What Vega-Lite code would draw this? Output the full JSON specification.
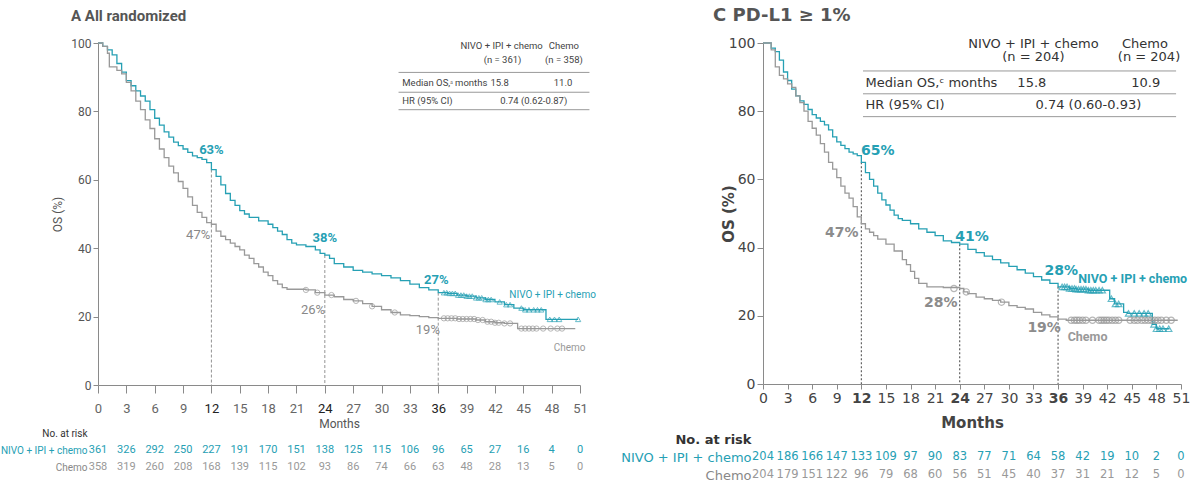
{
"$schema": "https://vega.github.io/schema/vega-lite/v6.json",
"background": "white",
"padding": {"left": 0, "top": 7, "right": 0, "bottom": 0},
"config": {"view": {"stroke": null}, "axis": {"grid": false, "domainColor": "#8a8a8a", "tickColor": "#8a8a8a", "labelOverlap": false}},
"datasets": {
"kmA": [
{"arm":"NIVO + IPI + chemo","month":0,"os":100},{"arm":"NIVO + IPI + chemo","month":0.5,"os":99},{"arm":"NIVO + IPI + chemo","month":1,"os":98},{"arm":"NIVO + IPI + chemo","month":1.5,"os":96.5},{"arm":"NIVO + IPI + chemo","month":2,"os":94},{"arm":"NIVO + IPI + chemo","month":2.5,"os":91.5},{"arm":"NIVO + IPI + chemo","month":3,"os":89},{"arm":"NIVO + IPI + chemo","month":3.5,"os":87.5},{"arm":"NIVO + IPI + chemo","month":4,"os":86},{"arm":"NIVO + IPI + chemo","month":4.5,"os":84.5},{"arm":"NIVO + IPI + chemo","month":5,"os":83},{"arm":"NIVO + IPI + chemo","month":5.5,"os":80.5},{"arm":"NIVO + IPI + chemo","month":6,"os":78},{"arm":"NIVO + IPI + chemo","month":6.5,"os":76},{"arm":"NIVO + IPI + chemo","month":7,"os":74},{"arm":"NIVO + IPI + chemo","month":7.5,"os":72.5},{"arm":"NIVO + IPI + chemo","month":8,"os":71},{"arm":"NIVO + IPI + chemo","month":8.5,"os":70},{"arm":"NIVO + IPI + chemo","month":9,"os":69},{"arm":"NIVO + IPI + chemo","month":9.5,"os":68},{"arm":"NIVO + IPI + chemo","month":10,"os":67},{"arm":"NIVO + IPI + chemo","month":10.5,"os":66.5},{"arm":"NIVO + IPI + chemo","month":11,"os":66},{"arm":"NIVO + IPI + chemo","month":11.5,"os":65},{"arm":"NIVO + IPI + chemo","month":12,"os":63},{"arm":"NIVO + IPI + chemo","month":12.5,"os":61},{"arm":"NIVO + IPI + chemo","month":13,"os":58.5},{"arm":"NIVO + IPI + chemo","month":13.5,"os":56},{"arm":"NIVO + IPI + chemo","month":14,"os":54},{"arm":"NIVO + IPI + chemo","month":14.5,"os":52.5},{"arm":"NIVO + IPI + chemo","month":15,"os":51},{"arm":"NIVO + IPI + chemo","month":15.5,"os":50},{"arm":"NIVO + IPI + chemo","month":16,"os":49},{"arm":"NIVO + IPI + chemo","month":17,"os":48},{"arm":"NIVO + IPI + chemo","month":18,"os":47},{"arm":"NIVO + IPI + chemo","month":18.5,"os":46},{"arm":"NIVO + IPI + chemo","month":19,"os":45},{"arm":"NIVO + IPI + chemo","month":19.5,"os":44},{"arm":"NIVO + IPI + chemo","month":20,"os":42.5},{"arm":"NIVO + IPI + chemo","month":20.5,"os":41.5},{"arm":"NIVO + IPI + chemo","month":21,"os":41},{"arm":"NIVO + IPI + chemo","month":22,"os":40.5},{"arm":"NIVO + IPI + chemo","month":23,"os":39.5},{"arm":"NIVO + IPI + chemo","month":23.5,"os":38.5},{"arm":"NIVO + IPI + chemo","month":24,"os":38},{"arm":"NIVO + IPI + chemo","month":24.5,"os":37},{"arm":"NIVO + IPI + chemo","month":25,"os":35.5},{"arm":"NIVO + IPI + chemo","month":26,"os":34.5},{"arm":"NIVO + IPI + chemo","month":27,"os":33.5},{"arm":"NIVO + IPI + chemo","month":28,"os":33},{"arm":"NIVO + IPI + chemo","month":29,"os":32.5},{"arm":"NIVO + IPI + chemo","month":30,"os":32},{"arm":"NIVO + IPI + chemo","month":31,"os":31.3},{"arm":"NIVO + IPI + chemo","month":32,"os":30.5},{"arm":"NIVO + IPI + chemo","month":33,"os":29.5},{"arm":"NIVO + IPI + chemo","month":34,"os":28.5},{"arm":"NIVO + IPI + chemo","month":35,"os":27.8},{"arm":"NIVO + IPI + chemo","month":36,"os":27},{"arm":"NIVO + IPI + chemo","month":37,"os":26.8},{"arm":"NIVO + IPI + chemo","month":38,"os":26.3},{"arm":"NIVO + IPI + chemo","month":39,"os":26},{"arm":"NIVO + IPI + chemo","month":40,"os":25.5},{"arm":"NIVO + IPI + chemo","month":41,"os":25},{"arm":"NIVO + IPI + chemo","month":42,"os":24.3},{"arm":"NIVO + IPI + chemo","month":43,"os":23.5},{"arm":"NIVO + IPI + chemo","month":44,"os":22.5},{"arm":"NIVO + IPI + chemo","month":45,"os":22},{"arm":"NIVO + IPI + chemo","month":47.4,"os":19.2},{"arm":"NIVO + IPI + chemo","month":50.8,"os":19.2},
{"arm":"Chemo","month":0,"os":100},{"arm":"Chemo","month":0.5,"os":99},{"arm":"Chemo","month":1,"os":97},{"arm":"Chemo","month":1.2,"os":93},{"arm":"Chemo","month":2,"os":92},{"arm":"Chemo","month":2.5,"os":91},{"arm":"Chemo","month":3,"os":88.5},{"arm":"Chemo","month":3.5,"os":86},{"arm":"Chemo","month":4,"os":83},{"arm":"Chemo","month":4.5,"os":80.5},{"arm":"Chemo","month":5,"os":77.5},{"arm":"Chemo","month":5.5,"os":75},{"arm":"Chemo","month":6,"os":72},{"arm":"Chemo","month":6.5,"os":69},{"arm":"Chemo","month":7,"os":66.5},{"arm":"Chemo","month":7.5,"os":64},{"arm":"Chemo","month":8,"os":62},{"arm":"Chemo","month":8.5,"os":59.5},{"arm":"Chemo","month":9,"os":57.5},{"arm":"Chemo","month":9.5,"os":55},{"arm":"Chemo","month":10,"os":52.5},{"arm":"Chemo","month":10.5,"os":50.5},{"arm":"Chemo","month":11,"os":49},{"arm":"Chemo","month":11.5,"os":47.5},{"arm":"Chemo","month":12,"os":47},{"arm":"Chemo","month":12.5,"os":45},{"arm":"Chemo","month":13,"os":43.5},{"arm":"Chemo","month":13.5,"os":42.5},{"arm":"Chemo","month":14,"os":41.5},{"arm":"Chemo","month":14.5,"os":40.5},{"arm":"Chemo","month":15,"os":39.5},{"arm":"Chemo","month":15.5,"os":38},{"arm":"Chemo","month":16,"os":37},{"arm":"Chemo","month":16.5,"os":35.5},{"arm":"Chemo","month":17,"os":34.5},{"arm":"Chemo","month":17.5,"os":33},{"arm":"Chemo","month":18,"os":32},{"arm":"Chemo","month":18.5,"os":30.5},{"arm":"Chemo","month":19,"os":29.5},{"arm":"Chemo","month":19.5,"os":28.5},{"arm":"Chemo","month":20,"os":28},{"arm":"Chemo","month":22,"os":27.8},{"arm":"Chemo","month":23,"os":27},{"arm":"Chemo","month":24,"os":26.3},{"arm":"Chemo","month":25,"os":25.8},{"arm":"Chemo","month":26,"os":25},{"arm":"Chemo","month":27,"os":24.6},{"arm":"Chemo","month":28,"os":23.8},{"arm":"Chemo","month":29,"os":23},{"arm":"Chemo","month":30,"os":22},{"arm":"Chemo","month":31,"os":21.2},{"arm":"Chemo","month":32,"os":20.5},{"arm":"Chemo","month":33,"os":20.3},{"arm":"Chemo","month":34,"os":20},{"arm":"Chemo","month":35,"os":19.7},{"arm":"Chemo","month":36,"os":19.5},{"arm":"Chemo","month":38,"os":19.3},{"arm":"Chemo","month":40,"os":19},{"arm":"Chemo","month":41,"os":18.5},{"arm":"Chemo","month":42,"os":18.2},{"arm":"Chemo","month":43,"os":18},{"arm":"Chemo","month":44.4,"os":16.5},{"arm":"Chemo","month":50.5,"os":16.5}
],
"cenA": [
{"arm":"NIVO + IPI + chemo","month":36.6,"os":27},{"arm":"NIVO + IPI + chemo","month":36.9,"os":27},{"arm":"NIVO + IPI + chemo","month":37.2,"os":26.8},{"arm":"NIVO + IPI + chemo","month":37.5,"os":26.8},{"arm":"NIVO + IPI + chemo","month":37.8,"os":26.8},{"arm":"NIVO + IPI + chemo","month":38.1,"os":26.3},{"arm":"NIVO + IPI + chemo","month":38.4,"os":26.3},{"arm":"NIVO + IPI + chemo","month":38.7,"os":26.3},{"arm":"NIVO + IPI + chemo","month":39.0,"os":26},{"arm":"NIVO + IPI + chemo","month":39.3,"os":26},{"arm":"NIVO + IPI + chemo","month":39.6,"os":26},{"arm":"NIVO + IPI + chemo","month":40.0,"os":25.5},{"arm":"NIVO + IPI + chemo","month":40.3,"os":25.5},{"arm":"NIVO + IPI + chemo","month":40.6,"os":25.5},{"arm":"NIVO + IPI + chemo","month":41.0,"os":25},{"arm":"NIVO + IPI + chemo","month":41.3,"os":25},{"arm":"NIVO + IPI + chemo","month":41.6,"os":25},{"arm":"NIVO + IPI + chemo","month":42.5,"os":24.3},{"arm":"NIVO + IPI + chemo","month":43.2,"os":23.5},{"arm":"NIVO + IPI + chemo","month":43.6,"os":23.5},{"arm":"NIVO + IPI + chemo","month":44.8,"os":22.5},{"arm":"NIVO + IPI + chemo","month":45.2,"os":22},{"arm":"NIVO + IPI + chemo","month":45.6,"os":22},{"arm":"NIVO + IPI + chemo","month":46.1,"os":22},{"arm":"NIVO + IPI + chemo","month":46.5,"os":22},{"arm":"NIVO + IPI + chemo","month":46.9,"os":22},{"arm":"NIVO + IPI + chemo","month":47.8,"os":19.2},{"arm":"NIVO + IPI + chemo","month":48.3,"os":19.2},{"arm":"NIVO + IPI + chemo","month":48.8,"os":19.2},{"arm":"NIVO + IPI + chemo","month":50.8,"os":19.2},
{"arm":"Chemo","month":22.0,"os":27.8},{"arm":"Chemo","month":23.2,"os":27},{"arm":"Chemo","month":24.7,"os":26.3},{"arm":"Chemo","month":27.3,"os":24.6},{"arm":"Chemo","month":29.0,"os":23},{"arm":"Chemo","month":31.4,"os":21.2},{"arm":"Chemo","month":36.6,"os":19.5},{"arm":"Chemo","month":37.0,"os":19.5},{"arm":"Chemo","month":37.4,"os":19.5},{"arm":"Chemo","month":37.8,"os":19.5},{"arm":"Chemo","month":38.2,"os":19.3},{"arm":"Chemo","month":38.6,"os":19.3},{"arm":"Chemo","month":39.0,"os":19.3},{"arm":"Chemo","month":39.4,"os":19.3},{"arm":"Chemo","month":39.8,"os":19.3},{"arm":"Chemo","month":40.2,"os":19},{"arm":"Chemo","month":40.7,"os":19},{"arm":"Chemo","month":41.2,"os":18.5},{"arm":"Chemo","month":41.6,"os":18.5},{"arm":"Chemo","month":42.0,"os":18.2},{"arm":"Chemo","month":42.4,"os":18.2},{"arm":"Chemo","month":43.0,"os":18},{"arm":"Chemo","month":43.6,"os":18},{"arm":"Chemo","month":44.8,"os":16.5},{"arm":"Chemo","month":45.2,"os":16.5},{"arm":"Chemo","month":45.6,"os":16.5},{"arm":"Chemo","month":46.0,"os":16.5},{"arm":"Chemo","month":46.4,"os":16.5},{"arm":"Chemo","month":47.1,"os":16.5},{"arm":"Chemo","month":47.9,"os":16.5},{"arm":"Chemo","month":48.6,"os":16.5},{"arm":"Chemo","month":49.1,"os":16.5}
],
"rlA": [{"month":12,"os":63},{"month":24,"os":38},{"month":36,"os":27}],
"ptA": [{"label":"63%","month":12,"os":68.8},{"label":"38%","month":24,"os":43.0},{"label":"27%","month":35.8,"os":30.8}],
"pgA": [{"label":"47%","month":10.6,"os":43.9},{"label":"26%","month":22.75,"os":22.0},{"label":"19%","month":34.9,"os":16.2}],
"srA": [{"label":"NIVO + IPI + chemo","arm":"NIVO + IPI + chemo","month":48.1,"os":26.4},{"label":"Chemo","arm":"Chemo","month":49.9,"os":10.8}],
"tcA": [{"label":"NIVO + IPI + chemo","month":42.7,"os":99.0},{"label":"(n = 361)","month":42.8,"os":95.1},{"label":"Chemo","month":49.3,"os":99.0},{"label":"(n = 358)","month":49.3,"os":95.1},{"label":"15.8","month":42.5,"os":88.3},{"label":"11.0","month":49.2,"os":88.3},{"label":"0.74 (0.62-0.87)","month":46.1,"os":83.1}],
"tlA": [{"label":"Median OS,ᵃ months","month":32.2,"os":88.3},{"label":"HR (95% CI)","month":32.2,"os":83.1}],
"trA": [{"from":31.8,"to":52,"os":91.4},{"from":31.8,"to":52,"os":85.6},{"from":31.8,"to":52,"os":80.5}],
"riskA": [
{"arm":"NIVO + IPI + chemo","month":0,"n":361},{"arm":"NIVO + IPI + chemo","month":3,"n":326},{"arm":"NIVO + IPI + chemo","month":6,"n":292},{"arm":"NIVO + IPI + chemo","month":9,"n":250},{"arm":"NIVO + IPI + chemo","month":12,"n":227},{"arm":"NIVO + IPI + chemo","month":15,"n":191},{"arm":"NIVO + IPI + chemo","month":18,"n":170},{"arm":"NIVO + IPI + chemo","month":21,"n":151},{"arm":"NIVO + IPI + chemo","month":24,"n":138},{"arm":"NIVO + IPI + chemo","month":27,"n":125},{"arm":"NIVO + IPI + chemo","month":30,"n":115},{"arm":"NIVO + IPI + chemo","month":33,"n":106},{"arm":"NIVO + IPI + chemo","month":36,"n":96},{"arm":"NIVO + IPI + chemo","month":39,"n":65},{"arm":"NIVO + IPI + chemo","month":42,"n":27},{"arm":"NIVO + IPI + chemo","month":45,"n":16},{"arm":"NIVO + IPI + chemo","month":48,"n":4},{"arm":"NIVO + IPI + chemo","month":51,"n":0},
{"arm":"Chemo","month":0,"n":358},{"arm":"Chemo","month":3,"n":319},{"arm":"Chemo","month":6,"n":260},{"arm":"Chemo","month":9,"n":208},{"arm":"Chemo","month":12,"n":168},{"arm":"Chemo","month":15,"n":139},{"arm":"Chemo","month":18,"n":115},{"arm":"Chemo","month":21,"n":102},{"arm":"Chemo","month":24,"n":93},{"arm":"Chemo","month":27,"n":86},{"arm":"Chemo","month":30,"n":74},{"arm":"Chemo","month":33,"n":66},{"arm":"Chemo","month":36,"n":63},{"arm":"Chemo","month":39,"n":48},{"arm":"Chemo","month":42,"n":28},{"arm":"Chemo","month":45,"n":13},{"arm":"Chemo","month":48,"n":5},{"arm":"Chemo","month":51,"n":0}
],
"kmC": [
{"arm":"NIVO + IPI + chemo","month":0,"os":100},{"arm":"NIVO + IPI + chemo","month":1,"os":98.5},{"arm":"NIVO + IPI + chemo","month":1.5,"os":97.5},{"arm":"NIVO + IPI + chemo","month":2,"os":95},{"arm":"NIVO + IPI + chemo","month":2.5,"os":91.5},{"arm":"NIVO + IPI + chemo","month":3,"os":89},{"arm":"NIVO + IPI + chemo","month":3.5,"os":86.5},{"arm":"NIVO + IPI + chemo","month":4,"os":84.5},{"arm":"NIVO + IPI + chemo","month":4.5,"os":83},{"arm":"NIVO + IPI + chemo","month":5,"os":82},{"arm":"NIVO + IPI + chemo","month":5.5,"os":80.5},{"arm":"NIVO + IPI + chemo","month":6,"os":79},{"arm":"NIVO + IPI + chemo","month":6.5,"os":78},{"arm":"NIVO + IPI + chemo","month":7,"os":77},{"arm":"NIVO + IPI + chemo","month":7.5,"os":76},{"arm":"NIVO + IPI + chemo","month":8,"os":74.5},{"arm":"NIVO + IPI + chemo","month":8.5,"os":72.5},{"arm":"NIVO + IPI + chemo","month":9,"os":71},{"arm":"NIVO + IPI + chemo","month":9.5,"os":70},{"arm":"NIVO + IPI + chemo","month":10,"os":69},{"arm":"NIVO + IPI + chemo","month":10.5,"os":68},{"arm":"NIVO + IPI + chemo","month":11,"os":67.5},{"arm":"NIVO + IPI + chemo","month":11.5,"os":67},{"arm":"NIVO + IPI + chemo","month":12,"os":65},{"arm":"NIVO + IPI + chemo","month":12.5,"os":62},{"arm":"NIVO + IPI + chemo","month":13,"os":60},{"arm":"NIVO + IPI + chemo","month":13.5,"os":58},{"arm":"NIVO + IPI + chemo","month":14,"os":56},{"arm":"NIVO + IPI + chemo","month":14.5,"os":54},{"arm":"NIVO + IPI + chemo","month":15,"os":52.5},{"arm":"NIVO + IPI + chemo","month":15.5,"os":51},{"arm":"NIVO + IPI + chemo","month":16,"os":49.5},{"arm":"NIVO + IPI + chemo","month":16.5,"os":48.5},{"arm":"NIVO + IPI + chemo","month":17,"os":48},{"arm":"NIVO + IPI + chemo","month":18,"os":47},{"arm":"NIVO + IPI + chemo","month":19,"os":45.5},{"arm":"NIVO + IPI + chemo","month":20,"os":44.5},{"arm":"NIVO + IPI + chemo","month":21,"os":43.5},{"arm":"NIVO + IPI + chemo","month":22,"os":42},{"arm":"NIVO + IPI + chemo","month":23,"os":41.5},{"arm":"NIVO + IPI + chemo","month":24,"os":41},{"arm":"NIVO + IPI + chemo","month":25,"os":39.5},{"arm":"NIVO + IPI + chemo","month":26,"os":38.5},{"arm":"NIVO + IPI + chemo","month":27,"os":37.5},{"arm":"NIVO + IPI + chemo","month":28,"os":36.5},{"arm":"NIVO + IPI + chemo","month":29,"os":35.5},{"arm":"NIVO + IPI + chemo","month":30,"os":34.5},{"arm":"NIVO + IPI + chemo","month":31,"os":33.5},{"arm":"NIVO + IPI + chemo","month":32,"os":32.5},{"arm":"NIVO + IPI + chemo","month":33,"os":31.5},{"arm":"NIVO + IPI + chemo","month":34,"os":30.5},{"arm":"NIVO + IPI + chemo","month":35,"os":29.5},{"arm":"NIVO + IPI + chemo","month":36,"os":28.5},{"arm":"NIVO + IPI + chemo","month":37.4,"os":28},{"arm":"NIVO + IPI + chemo","month":38.2,"os":27.8},{"arm":"NIVO + IPI + chemo","month":39.7,"os":27.5},{"arm":"NIVO + IPI + chemo","month":42.3,"os":25},{"arm":"NIVO + IPI + chemo","month":42.9,"os":23.5},{"arm":"NIVO + IPI + chemo","month":44,"os":21},{"arm":"NIVO + IPI + chemo","month":44.5,"os":20.7},{"arm":"NIVO + IPI + chemo","month":47.5,"os":17.5},{"arm":"NIVO + IPI + chemo","month":48,"os":16.2},{"arm":"NIVO + IPI + chemo","month":49.6,"os":16.2},
{"arm":"Chemo","month":0,"os":100},{"arm":"Chemo","month":1,"os":98},{"arm":"Chemo","month":1.5,"os":93},{"arm":"Chemo","month":2,"os":90.5},{"arm":"Chemo","month":2.5,"os":89.5},{"arm":"Chemo","month":3,"os":88},{"arm":"Chemo","month":3.5,"os":87},{"arm":"Chemo","month":4,"os":84.5},{"arm":"Chemo","month":4.5,"os":82.5},{"arm":"Chemo","month":5,"os":80},{"arm":"Chemo","month":5.5,"os":77},{"arm":"Chemo","month":6,"os":75},{"arm":"Chemo","month":6.5,"os":73},{"arm":"Chemo","month":7,"os":70.5},{"arm":"Chemo","month":7.5,"os":68},{"arm":"Chemo","month":8,"os":65},{"arm":"Chemo","month":8.5,"os":63},{"arm":"Chemo","month":9,"os":60.5},{"arm":"Chemo","month":9.5,"os":58},{"arm":"Chemo","month":10,"os":56},{"arm":"Chemo","month":10.5,"os":54.5},{"arm":"Chemo","month":11,"os":52},{"arm":"Chemo","month":11.5,"os":49},{"arm":"Chemo","month":12,"os":47},{"arm":"Chemo","month":12.5,"os":45.5},{"arm":"Chemo","month":13,"os":44.5},{"arm":"Chemo","month":13.5,"os":43.5},{"arm":"Chemo","month":14,"os":42.5},{"arm":"Chemo","month":15,"os":41},{"arm":"Chemo","month":16,"os":39},{"arm":"Chemo","month":17,"os":36.5},{"arm":"Chemo","month":17.5,"os":35},{"arm":"Chemo","month":18,"os":33},{"arm":"Chemo","month":18.5,"os":31},{"arm":"Chemo","month":19,"os":29.5},{"arm":"Chemo","month":20,"os":28.5},{"arm":"Chemo","month":22,"os":28.3},{"arm":"Chemo","month":24,"os":28},{"arm":"Chemo","month":24.5,"os":27},{"arm":"Chemo","month":25,"os":26.5},{"arm":"Chemo","month":26,"os":25.5},{"arm":"Chemo","month":27,"os":25},{"arm":"Chemo","month":28,"os":24.5},{"arm":"Chemo","month":29,"os":24},{"arm":"Chemo","month":30,"os":23},{"arm":"Chemo","month":31,"os":22.5},{"arm":"Chemo","month":32,"os":22},{"arm":"Chemo","month":33,"os":21},{"arm":"Chemo","month":34,"os":20.3},{"arm":"Chemo","month":35,"os":19.7},{"arm":"Chemo","month":36,"os":19},{"arm":"Chemo","month":37,"os":18.7},{"arm":"Chemo","month":50.6,"os":18.7}
],
"cenC": [
{"arm":"NIVO + IPI + chemo","month":36.5,"os":28.5},{"arm":"NIVO + IPI + chemo","month":36.8,"os":28.5},{"arm":"NIVO + IPI + chemo","month":37.1,"os":28.5},{"arm":"NIVO + IPI + chemo","month":37.4,"os":28},{"arm":"NIVO + IPI + chemo","month":37.7,"os":28},{"arm":"NIVO + IPI + chemo","month":38.0,"os":28},{"arm":"NIVO + IPI + chemo","month":38.2,"os":27.8},{"arm":"NIVO + IPI + chemo","month":38.5,"os":27.8},{"arm":"NIVO + IPI + chemo","month":38.8,"os":27.8},{"arm":"NIVO + IPI + chemo","month":39.1,"os":27.8},{"arm":"NIVO + IPI + chemo","month":39.4,"os":27.8},{"arm":"NIVO + IPI + chemo","month":39.7,"os":27.5},{"arm":"NIVO + IPI + chemo","month":40.0,"os":27.5},{"arm":"NIVO + IPI + chemo","month":40.3,"os":27.5},{"arm":"NIVO + IPI + chemo","month":40.6,"os":27.5},{"arm":"NIVO + IPI + chemo","month":41.0,"os":27.5},{"arm":"NIVO + IPI + chemo","month":41.4,"os":27.5},{"arm":"NIVO + IPI + chemo","month":42.5,"os":25},{"arm":"NIVO + IPI + chemo","month":43.0,"os":23.5},{"arm":"NIVO + IPI + chemo","month":43.4,"os":23.5},{"arm":"NIVO + IPI + chemo","month":44.6,"os":20.7},{"arm":"NIVO + IPI + chemo","month":45.3,"os":20.7},{"arm":"NIVO + IPI + chemo","month":45.9,"os":20.7},{"arm":"NIVO + IPI + chemo","month":46.5,"os":20.7},{"arm":"NIVO + IPI + chemo","month":47.0,"os":20.7},{"arm":"NIVO + IPI + chemo","month":47.7,"os":17.5},{"arm":"NIVO + IPI + chemo","month":48.0,"os":16.2},{"arm":"NIVO + IPI + chemo","month":48.4,"os":16.2},{"arm":"NIVO + IPI + chemo","month":48.8,"os":16.2},{"arm":"NIVO + IPI + chemo","month":49.5,"os":16.2},
{"arm":"Chemo","month":23.3,"os":28},{"arm":"Chemo","month":24.8,"os":27},{"arm":"Chemo","month":29.1,"os":24},{"arm":"Chemo","month":37.6,"os":18.7},{"arm":"Chemo","month":38.0,"os":18.7},{"arm":"Chemo","month":38.3,"os":18.7},{"arm":"Chemo","month":38.6,"os":18.7},{"arm":"Chemo","month":39.0,"os":18.7},{"arm":"Chemo","month":39.4,"os":18.7},{"arm":"Chemo","month":40.2,"os":18.7},{"arm":"Chemo","month":41.0,"os":18.7},{"arm":"Chemo","month":41.3,"os":18.7},{"arm":"Chemo","month":41.6,"os":18.7},{"arm":"Chemo","month":41.9,"os":18.7},{"arm":"Chemo","month":42.2,"os":18.7},{"arm":"Chemo","month":42.6,"os":18.7},{"arm":"Chemo","month":43.0,"os":18.7},{"arm":"Chemo","month":43.4,"os":18.7},{"arm":"Chemo","month":44.8,"os":18.7},{"arm":"Chemo","month":45.3,"os":18.7},{"arm":"Chemo","month":45.7,"os":18.7},{"arm":"Chemo","month":46.2,"os":18.7},{"arm":"Chemo","month":46.6,"os":18.7},{"arm":"Chemo","month":47.0,"os":18.7},{"arm":"Chemo","month":47.4,"os":18.7},{"arm":"Chemo","month":47.8,"os":18.7},{"arm":"Chemo","month":48.2,"os":18.7},{"arm":"Chemo","month":48.6,"os":18.7},{"arm":"Chemo","month":49.2,"os":18.7},{"arm":"Chemo","month":49.8,"os":18.7}
],
"rlC": [{"month":12,"os":65},{"month":24,"os":41},{"month":36,"os":28.5}],
"ptC": [{"label":"65%","month":14.0,"os":68.4},{"label":"41%","month":25.5,"os":43.2},{"label":"28%","month":36.4,"os":33.2}],
"pgC": [{"label":"47%","month":9.6,"os":44.2},{"label":"28%","month":21.7,"os":23.7},{"label":"19%","month":34.3,"os":16.5}],
"srC": [{"label":"NIVO + IPI + chemo","arm":"NIVO + IPI + chemo","month":45.1,"os":30.9},{"label":"Chemo","arm":"Chemo","month":39.6,"os":13.8}],
"tcC": [{"label":"NIVO + IPI + chemo","month":33.0,"os":99.6},{"label":"(n = 204)","month":33.0,"os":95.8},{"label":"Chemo","month":46.6,"os":99.6},{"label":"(n = 204)","month":47.1,"os":95.8},{"label":"15.8","month":32.8,"os":88.4},{"label":"10.9","month":46.7,"os":88.4},{"label":"0.74 (0.60-0.93)","month":39.7,"os":81.8}],
"tlC": [{"label":"Median OS,ᶜ months","month":12.5,"os":88.4},{"label":"HR (95% CI)","month":12.5,"os":81.8}],
"trC": [{"from":12.2,"to":50.4,"os":91.8},{"from":12.2,"to":50.4,"os":85.1},{"from":12.2,"to":50.4,"os":78.4}],
"riskC": [
{"arm":"NIVO + IPI + chemo","month":0,"n":204},{"arm":"NIVO + IPI + chemo","month":3,"n":186},{"arm":"NIVO + IPI + chemo","month":6,"n":166},{"arm":"NIVO + IPI + chemo","month":9,"n":147},{"arm":"NIVO + IPI + chemo","month":12,"n":133},{"arm":"NIVO + IPI + chemo","month":15,"n":109},{"arm":"NIVO + IPI + chemo","month":18,"n":97},{"arm":"NIVO + IPI + chemo","month":21,"n":90},{"arm":"NIVO + IPI + chemo","month":24,"n":83},{"arm":"NIVO + IPI + chemo","month":27,"n":77},{"arm":"NIVO + IPI + chemo","month":30,"n":71},{"arm":"NIVO + IPI + chemo","month":33,"n":64},{"arm":"NIVO + IPI + chemo","month":36,"n":58},{"arm":"NIVO + IPI + chemo","month":39,"n":42},{"arm":"NIVO + IPI + chemo","month":42,"n":19},{"arm":"NIVO + IPI + chemo","month":45,"n":10},{"arm":"NIVO + IPI + chemo","month":48,"n":2},{"arm":"NIVO + IPI + chemo","month":51,"n":0},
{"arm":"Chemo","month":0,"n":204},{"arm":"Chemo","month":3,"n":179},{"arm":"Chemo","month":6,"n":151},{"arm":"Chemo","month":9,"n":122},{"arm":"Chemo","month":12,"n":96},{"arm":"Chemo","month":15,"n":79},{"arm":"Chemo","month":18,"n":68},{"arm":"Chemo","month":21,"n":60},{"arm":"Chemo","month":24,"n":56},{"arm":"Chemo","month":27,"n":51},{"arm":"Chemo","month":30,"n":45},{"arm":"Chemo","month":33,"n":40},{"arm":"Chemo","month":36,"n":37},{"arm":"Chemo","month":39,"n":31},{"arm":"Chemo","month":42,"n":21},{"arm":"Chemo","month":45,"n":12},{"arm":"Chemo","month":48,"n":5},{"arm":"Chemo","month":51,"n":0}
]
},
"spacing": 24,
"hconcat": [
{
"spacing": 48,
"bounds": "flush",
"vconcat": [
{
"width": 482, "height": 342,
"title": {"text": "A  All randomized", "anchor": "start", "frame": "group", "dx": -27, "baseline": "bottom", "offset": -2, "font": "Roboto", "fontSize": 15, "fontWeight": "bold", "color": "#555"},
"layer": [
{"data": {"name": "rlA"}, "mark": {"type": "rule", "strokeDash": [3, 2], "color": "#777", "strokeWidth": 0.8},
 "encoding": {
  "x": {"field": "month", "type": "quantitative", "scale": {"domain": [0, 51], "nice": false, "zero": false},
   "axis": {"values": [0,3,6,9,12,15,18,21,24,27,30,33,36,39,42,45,48,51], "tickCount": 30, "labelOverlap": false, "title": "Months", "titleFont": "Roboto", "titleFontSize": 12, "titleFontWeight": "normal", "titleColor": "#555", "titlePadding": 3, "labelFont": "Roboto", "labelFontSize": 13, "labelColor": {"condition": {"test": "datum.value === 12 || datum.value === 24 || datum.value === 36", "value": "#222"}, "value": "#666"}, "tickSize": 8, "labelPadding": 9, "labelFlush": false}},
  "y": {"field": "os", "type": "quantitative", "scale": {"domain": [0, 100], "nice": false},
   "axis": {"values": [0,20,40,60,80,100], "tickCount": 10, "labelOverlap": false, "title": "OS (%)", "titleFont": "Roboto", "titleFontSize": 12, "titleFontWeight": "normal", "titleColor": "#555", "titlePadding": 6, "labelFont": "Roboto", "labelFontSize": 12, "labelColor": "#555", "tickSize": 5, "labelPadding": 2}},
  "y2": {"datum": 0}}},
{"data": {"name": "kmA"}, "mark": {"type": "line", "interpolate": "step-after", "strokeWidth": 1.3},
 "encoding": {"x": {"field": "month", "type": "quantitative"}, "y": {"field": "os", "type": "quantitative"},
  "color": {"field": "arm", "type": "nominal", "scale": {"domain": ["NIVO + IPI + chemo", "Chemo"], "range": ["#26a0b4", "#999999"]}, "legend": null}}},
{"data": {"name": "cenA"}, "transform": [{"filter": "datum.arm === 'NIVO + IPI + chemo'"}], "mark": {"type": "point", "shape": "triangle-up", "filled": false, "size": 28, "strokeWidth": 1, "color": "#26a0b4"},
 "encoding": {"x": {"field": "month", "type": "quantitative"}, "y": {"field": "os", "type": "quantitative"}}},
{"data": {"name": "cenA"}, "transform": [{"filter": "datum.arm === 'Chemo'"}], "mark": {"type": "point", "shape": "circle", "filled": false, "size": 28, "strokeWidth": 1, "color": "#999999"},
 "encoding": {"x": {"field": "month", "type": "quantitative"}, "y": {"field": "os", "type": "quantitative"}}},
{"data": {"name": "ptA"}, "mark": {"type": "text", "font": "Roboto", "fontSize": 13, "fontWeight": "bold", "color": "#26a0b4"},
 "encoding": {"x": {"field": "month", "type": "quantitative"}, "y": {"field": "os", "type": "quantitative"}, "text": {"field": "label"}}},
{"data": {"name": "pgA"}, "mark": {"type": "text", "font": "Roboto", "fontSize": 13, "color": "#888"},
 "encoding": {"x": {"field": "month", "type": "quantitative"}, "y": {"field": "os", "type": "quantitative"}, "text": {"field": "label"}}},
{"data": {"name": "srA"}, "mark": {"type": "text", "font": "Roboto", "fontSize": 10},
 "encoding": {"x": {"field": "month", "type": "quantitative"}, "y": {"field": "os", "type": "quantitative"}, "text": {"field": "label"},
  "color": {"field": "arm", "type": "nominal", "scale": {"domain": ["NIVO + IPI + chemo", "Chemo"], "range": ["#26a0b4", "#999999"]}, "legend": null}}},
{"data": {"name": "trA"}, "mark": {"type": "rule", "color": "#999", "strokeWidth": 1},
 "encoding": {"x": {"field": "from", "type": "quantitative"}, "x2": {"field": "to"}, "y": {"field": "os", "type": "quantitative"}}},
{"data": {"name": "tcA"}, "mark": {"type": "text", "font": "Roboto", "fontSize": 9.5, "color": "#444"},
 "encoding": {"x": {"field": "month", "type": "quantitative"}, "y": {"field": "os", "type": "quantitative"}, "text": {"field": "label"}}},
{"data": {"name": "tlA"}, "mark": {"type": "text", "align": "left", "font": "Roboto", "fontSize": 9.5, "color": "#444"},
 "encoding": {"x": {"field": "month", "type": "quantitative"}, "y": {"field": "os", "type": "quantitative"}, "text": {"field": "label"}}}
]
},
{
"width": 482, "height": 34,
"data": {"name": "riskA"},
"mark": {"type": "text", "font": "Roboto", "fontSize": 11},
"encoding": {
 "x": {"field": "month", "type": "quantitative", "scale": {"domain": [0, 51], "nice": false}, "axis": null},
 "y": {"field": "arm", "type": "nominal", "scale": {"type": "point", "domain": ["No. at risk", "NIVO + IPI + chemo", "Chemo"], "padding": 0},
  "axis": {"title": null, "domain": false, "ticks": false, "labelPadding": 11, "labelFont": "Roboto", "labelFontSize": 10,
   "labelColor": {"condition": [{"test": "datum.value === 'NIVO + IPI + chemo'", "value": "#26a0b4"}, {"test": "datum.value === 'Chemo'", "value": "#888"}], "value": "#333"}}},
 "text": {"field": "n", "type": "quantitative"},
 "color": {"field": "arm", "type": "nominal", "scale": {"domain": ["NIVO + IPI + chemo", "Chemo"], "range": ["#26a0b4", "#999999"]}, "legend": null}
}
}
]
},
{
"spacing": 55,
"bounds": "flush",
"vconcat": [
{
"width": 418, "height": 341,
"title": {"text": "C  PD-L1 ≥ 1%", "anchor": "start", "frame": "group", "dx": -50, "baseline": "bottom", "offset": -7, "font": "DejaVu Sans", "fontSize": 18, "fontWeight": "bold", "color": "#555"},
"layer": [
{"data": {"name": "rlC"}, "mark": {"type": "rule", "strokeDash": [2, 2], "color": "#555", "strokeWidth": 1.1},
 "encoding": {
  "x": {"field": "month", "type": "quantitative", "scale": {"domain": [0, 51], "nice": false, "zero": false},
   "axis": {"values": [0,3,6,9,12,15,18,21,24,27,30,33,36,39,42,45,48,51], "tickCount": 30, "labelOverlap": false, "title": "Months", "titleFont": "DejaVu Sans", "titleFontSize": 15, "titleFontWeight": "bold", "titleColor": "#444", "titlePadding": 10, "labelFont": "DejaVu Sans", "labelFontSize": 14, "labelColor": "#444", "labelFontWeight": {"condition": {"test": "datum.value === 12 || datum.value === 24 || datum.value === 36", "value": "bold"}, "value": "normal"}, "tickSize": 5, "labelPadding": 2, "labelFlush": false}},
  "y": {"field": "os", "type": "quantitative", "scale": {"domain": [0, 100], "nice": false},
   "axis": {"values": [0,20,40,60,80,100], "tickCount": 10, "labelOverlap": false, "title": "OS (%)", "titleFont": "DejaVu Sans", "titleFontSize": 15, "titleFontWeight": "bold", "titleColor": "#444", "titlePadding": -8, "labelFont": "DejaVu Sans", "labelFontSize": 14, "labelColor": "#444", "tickSize": 6, "labelPadding": 2}},
  "y2": {"datum": 0}}},
{"data": {"name": "kmC"}, "mark": {"type": "line", "interpolate": "step-after", "strokeWidth": 1.3},
 "encoding": {"x": {"field": "month", "type": "quantitative"}, "y": {"field": "os", "type": "quantitative"},
  "color": {"field": "arm", "type": "nominal", "scale": {"domain": ["NIVO + IPI + chemo", "Chemo"], "range": ["#26a0b4", "#999999"]}, "legend": null}}},
{"data": {"name": "cenC"}, "transform": [{"filter": "datum.arm === 'NIVO + IPI + chemo'"}], "mark": {"type": "point", "shape": "triangle-up", "filled": false, "size": 40, "strokeWidth": 1.2, "color": "#26a0b4"},
 "encoding": {"x": {"field": "month", "type": "quantitative"}, "y": {"field": "os", "type": "quantitative"}}},
{"data": {"name": "cenC"}, "transform": [{"filter": "datum.arm === 'Chemo'"}], "mark": {"type": "point", "shape": "circle", "filled": false, "size": 40, "strokeWidth": 1.2, "color": "#999999"},
 "encoding": {"x": {"field": "month", "type": "quantitative"}, "y": {"field": "os", "type": "quantitative"}}},
{"data": {"name": "ptC"}, "mark": {"type": "text", "font": "DejaVu Sans", "fontSize": 14, "fontWeight": "bold", "color": "#26a0b4"},
 "encoding": {"x": {"field": "month", "type": "quantitative"}, "y": {"field": "os", "type": "quantitative"}, "text": {"field": "label"}}},
{"data": {"name": "pgC"}, "mark": {"type": "text", "font": "DejaVu Sans", "fontSize": 14, "fontWeight": "bold", "color": "#8c8c8c"},
 "encoding": {"x": {"field": "month", "type": "quantitative"}, "y": {"field": "os", "type": "quantitative"}, "text": {"field": "label"}}},
{"data": {"name": "srC"}, "mark": {"type": "text", "font": "Roboto", "fontSize": 12.5, "fontWeight": "bold"},
 "encoding": {"x": {"field": "month", "type": "quantitative"}, "y": {"field": "os", "type": "quantitative"}, "text": {"field": "label"},
  "color": {"field": "arm", "type": "nominal", "scale": {"domain": ["NIVO + IPI + chemo", "Chemo"], "range": ["#26a0b4", "#999999"]}, "legend": null}}},
{"data": {"name": "trC"}, "mark": {"type": "rule", "color": "#999", "strokeWidth": 1},
 "encoding": {"x": {"field": "from", "type": "quantitative"}, "x2": {"field": "to"}, "y": {"field": "os", "type": "quantitative"}}},
{"data": {"name": "tcC"}, "mark": {"type": "text", "font": "DejaVu Sans", "fontSize": 13, "color": "#333"},
 "encoding": {"x": {"field": "month", "type": "quantitative"}, "y": {"field": "os", "type": "quantitative"}, "text": {"field": "label"}}},
{"data": {"name": "tlC"}, "mark": {"type": "text", "align": "left", "font": "DejaVu Sans", "fontSize": 13, "color": "#333"},
 "encoding": {"x": {"field": "month", "type": "quantitative"}, "y": {"field": "os", "type": "quantitative"}, "text": {"field": "label"}}}
]
},
{
"width": 418, "height": 36,
"data": {"name": "riskC"},
"mark": {"type": "text", "font": "DejaVu Sans", "fontSize": 11.5},
"encoding": {
 "x": {"field": "month", "type": "quantitative", "scale": {"domain": [0, 51], "nice": false}, "axis": null},
 "y": {"field": "arm", "type": "nominal", "scale": {"type": "point", "domain": ["No. at risk", "NIVO + IPI + chemo", "Chemo"], "padding": 0},
  "axis": {"title": null, "domain": false, "ticks": false, "labelPadding": 12, "labelFont": "DejaVu Sans", "labelFontSize": 13,
   "labelFontWeight": {"condition": {"test": "datum.value === 'No. at risk'", "value": "bold"}, "value": "normal"},
   "labelColor": {"condition": [{"test": "datum.value === 'NIVO + IPI + chemo'", "value": "#26a0b4"}, {"test": "datum.value === 'Chemo'", "value": "#888"}], "value": "#333"}}},
 "text": {"field": "n", "type": "quantitative"},
 "color": {"field": "arm", "type": "nominal", "scale": {"domain": ["NIVO + IPI + chemo", "Chemo"], "range": ["#26a0b4", "#999999"]}, "legend": null}
}
}
]
}
]
}
